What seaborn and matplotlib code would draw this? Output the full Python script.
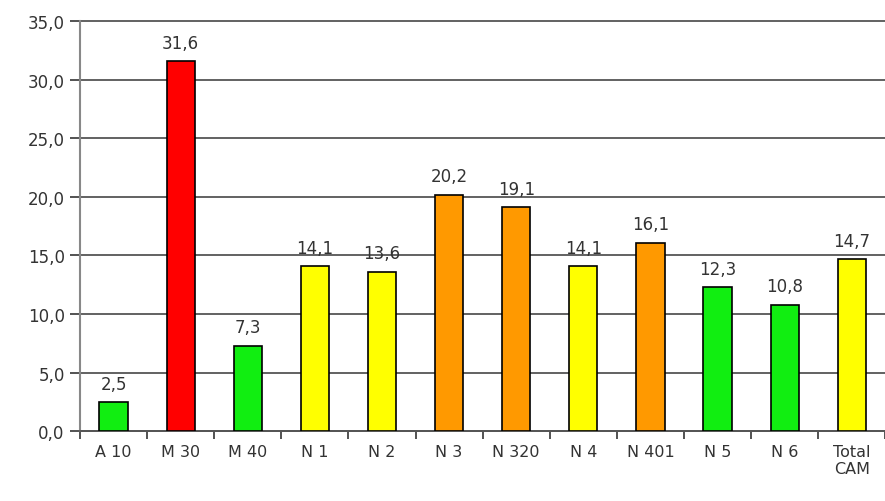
import numpy as np
import pandas as pd
import seaborn as sns
import matplotlib
matplotlib.use("Agg")
import matplotlib.pyplot as plt
from matplotlib.ticker import FixedLocator

categories = ["A 10", "M 30", "M 40", "N 1", "N 2", "N 3", "N 320", "N 4", "N 401", "N 5", "N 6", "Total\nCAM"]
values = [2.5, 31.6, 7.3, 14.1, 13.6, 20.2, 19.1, 14.1, 16.1, 12.3, 10.8, 14.7]
bar_colors = ["#11ee11", "#ff0000", "#11ee11", "#ffff00", "#ffff00", "#ff9900",
              "#ff9900", "#ffff00", "#ff9900", "#11ee11", "#11ee11", "#ffff00"]

df = pd.DataFrame({"cat": categories, "val": values})

sns.set_style("white")
plt.rcParams['font.family'] = ['DejaVu Sans']

fig = plt.figure(figsize=(8.85, 5.02), dpi=100)
ax = fig.add_axes([0.0904, 0.139, 0.91, 0.817])

sns.barplot(data=df, x="cat", y="val", hue="cat", palette=dict(zip(categories, bar_colors)),
            saturation=1, legend=False, width=0.42, edgecolor="black", linewidth=1.2,
            ax=ax, zorder=3)

ax.set_ylim(0, 35)
ax.set_xlim(-0.5, len(categories) - 0.5)
ax.set_yticks(np.arange(0, 36, 5))
ax.set_yticklabels([f"{v:.1f}".replace(".", ",") for v in np.arange(0, 36, 5)], fontsize=12, color="#333333")
ax.yaxis.grid(True, color="#555555", linewidth=1.3, zorder=0)
for gl in ax.get_ygridlines():
    gl.set_clip_on(False)
ax.set_axisbelow(True)

# labels under categories, tick marks between them
ax.tick_params(axis="x", which="major", length=0, labelsize=11.5, labelcolor="#333333", pad=9)
ax.xaxis.set_minor_locator(FixedLocator(np.arange(-0.5, len(categories), 1)))
ax.tick_params(axis="x", which="minor", bottom=True, length=6, width=1.3, color="#444444", direction="out")
ax.tick_params(axis="y", left=True, length=7, width=1.3, color="#444444", pad=4, direction="out")

for s in ["top", "right"]:
    ax.spines[s].set_visible(False)
ax.spines["left"].set_color("#888888")
ax.spines["left"].set_linewidth(1.5)
ax.spines["bottom"].set_color("#555555")
ax.spines["bottom"].set_linewidth(1.3)
ax.set_xlabel("")
ax.set_ylabel("")

for i, v in enumerate(values):
    ax.text(i, v + 0.8, f"{v:.1f}".replace(".", ","), ha="center", va="bottom", fontsize=12, color="#333333")

fig.savefig("out.png", dpi=100)
